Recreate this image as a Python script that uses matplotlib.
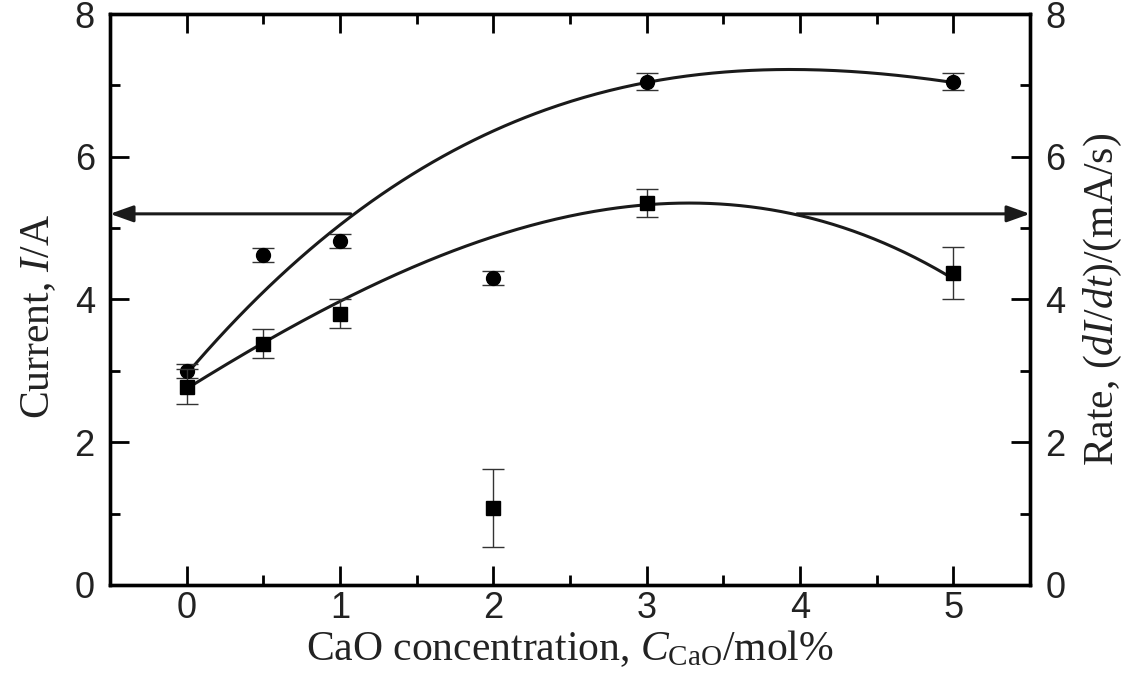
import numpy as np
import matplotlib
matplotlib.use("Agg")
import matplotlib.pyplot as plt
from matplotlib.ticker import MultipleLocator

plt.rcParams['mathtext.fontset'] = 'custom'
plt.rcParams['mathtext.rm'] = 'Liberation Serif'
plt.rcParams['mathtext.it'] = 'Liberation Serif:italic'

# ---- data ----
conc = [0, 0.5, 1, 2, 3, 5]
current = [3.0, 4.62, 4.82, 4.3, 7.05, 7.05]          # circles, left axis
current_err = [0.1, 0.1, 0.1, 0.1, 0.12, 0.12]
rate = [2.78, 3.38, 3.8, 1.08, 5.35, 4.37]             # squares, right axis
rate_err = [0.25, 0.2, 0.2, 0.55, 0.2, 0.36]

# trend curves
cur_curve_x = [0, 0.49, 1.07, 1.70, 2.56, 3.0, 3.95, 4.99]
cur_curve_y = [2.97, 4.05, 5.2, 6.0, 6.84, 7.05, 7.2, 7.05]
rate_curve_x = [0, 0.49, 1.0, 1.70, 2.43, 3.0, 3.41, 3.95, 4.49, 4.99]
rate_curve_y = [2.77, 3.36, 3.98, 4.6, 5.18, 5.35, 5.37, 5.2, 4.74, 4.36]

arrow_y = 5.2
arrow_left_start = 1.07
arrow_right_start = 3.98

xlim = (-0.5, 5.5)
ylim = (0, 8)

fig = plt.figure(figsize=(11.45, 6.83), dpi=100)
ax = fig.add_axes([0.0961, 0.1435, 0.8035, 0.836])
ax2 = ax.twinx()

lc = '#1a1a1a'

xs = np.linspace(0, 5, 300)
p1 = np.polyfit(cur_curve_x, cur_curve_y, 3)
p2 = np.polyfit(rate_curve_x, rate_curve_y, 3)
ax.plot(xs, np.polyval(p1, xs), color=lc, lw=2.2, zorder=3)
ax2.plot(xs, np.polyval(p2, xs), color=lc, lw=2.2, zorder=3)

ax.errorbar(conc, current, yerr=current_err, fmt='o', color='black', ms=10,
            ecolor='#333333', elinewidth=1.0, capsize=8, capthick=1.0, zorder=4)
ax2.errorbar(conc, rate, yerr=rate_err, fmt='s', color='black', ms=9.5,
             ecolor='#333333', elinewidth=1.0, capsize=8, capthick=1.0, zorder=4)

# arrows
ax.annotate('', xy=(xlim[0], arrow_y), xytext=(arrow_left_start, arrow_y),
            arrowprops=dict(arrowstyle='-|>,head_length=1.4,head_width=0.5',
                            color=lc, lw=2.2, shrinkA=0, shrinkB=0))
ax2.annotate('', xy=(xlim[1], arrow_y), xytext=(arrow_right_start, arrow_y),
             arrowprops=dict(arrowstyle='-|>,head_length=1.4,head_width=0.5',
                             color=lc, lw=2.2, shrinkA=0, shrinkB=0))

for a in (ax, ax2):
    a.set_xlim(*xlim)
    a.set_ylim(*ylim)
    for s in a.spines.values():
        s.set_linewidth(2.4)
    a.yaxis.set_major_locator(MultipleLocator(2))
    a.yaxis.set_minor_locator(MultipleLocator(1))

ax.xaxis.set_major_locator(MultipleLocator(1))
ax.xaxis.set_minor_locator(MultipleLocator(0.5))
ax.set_xticks([0, 1, 2, 3, 4, 5])

ax.tick_params(which='major', direction='in', length=14, width=2,
               top=True, right=False, labelsize=26)
ax.tick_params(axis='x', which='major', pad=4)
ax.tick_params(axis='y', which='major', pad=11)
ax.tick_params(which='minor', direction='in', length=7, width=2,
               top=True, right=False)
ax2.tick_params(which='major', direction='in', length=14, width=2,
                labelsize=26, pad=11)
ax2.tick_params(which='minor', direction='in', length=7, width=2)
for lab in ax.get_xticklabels() + ax.get_yticklabels() + ax2.get_yticklabels():
    lab.set_fontfamily('Liberation Sans')
    lab.set_color('#222222')

label_kw = dict(fontfamily='Liberation Serif', fontsize=30, color='#222222')
ax.set_xlabel('CaO concentration, $C_{\\mathrm{CaO}}$/mol%', labelpad=2, **label_kw)
ax.set_ylabel('Current, $I$/A', **label_kw)
ax.yaxis.set_label_coords(-0.056, 0.47)
ax2.set_ylabel('Rate, ($dI/dt$)/(mA/s)', labelpad=12, **label_kw)

fig.savefig('out.png', dpi=100)
